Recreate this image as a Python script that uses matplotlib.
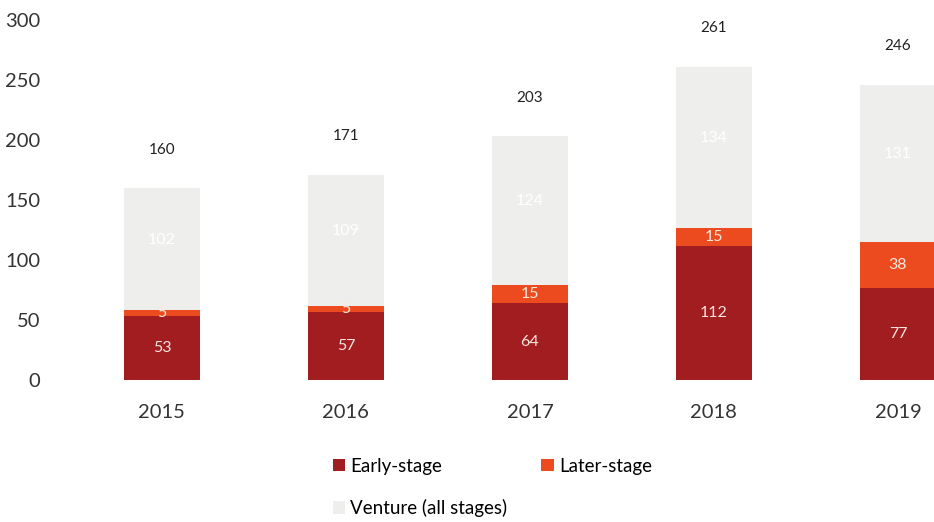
import matplotlib
matplotlib.use("Agg")
import matplotlib.pyplot as plt
import numpy as np

plt.rcParams['font.family'] = ['Lato', 'DejaVu Sans']

years = ["2015", "2016", "2017", "2018", "2019"]
early = [53, 57, 64, 112, 77]
later = [5, 5, 15, 15, 38]
venture_rest = [102, 109, 124, 134, 131]
totals = [160, 171, 203, 261, 246]

c_early = "#A11D1F"
c_later = "#EB4B1E"
c_vent = "#EEEEEC"

fig = plt.figure(figsize=(9.34, 5.22), dpi=100)
ax = fig.add_axes([60/934, (522-380)/522, (934-60)/934, 360/522])

x = np.arange(len(years))
w = 0.41
b1 = ax.bar(x, early, w, color=c_early, label="Early-stage")
b2 = ax.bar(x, later, w, bottom=early, color=c_later, label="Later-stage")
bottom3 = np.array(early) + np.array(later)
b3 = ax.bar(x, venture_rest, w, bottom=bottom3, color=c_vent, label="Venture (all stages)")

for i in range(len(years)):
    ax.text(x[i], early[i]/2, str(early[i]), ha='center', va='center', color='#F5E6E0', fontsize=11.5)
    ax.text(x[i], early[i] + later[i]/2, str(later[i]), ha='center', va='center', color='#FBE9DD', fontsize=11.5)
    ax.text(x[i], bottom3[i] + venture_rest[i]/2 + 8, str(venture_rest[i]), ha='center', va='center', color='#FFFFFF', fontsize=11.5)
    ax.text(x[i], totals[i] + 32, str(totals[i]), ha='center', va='center', color='#222222', fontsize=11, clip_on=False)

ax.set_xlim(-0.554, 4.196)
ax.set_ylim(0, 300)
ax.set_yticks([0, 50, 100, 150, 200, 250, 300])
ax.set_xticks(x)
ax.set_xticklabels(years)
for s in ax.spines.values():
    s.set_visible(False)
ax.tick_params(axis='both', length=0, labelsize=14.5, colors='#333333')
ax.tick_params(axis='y', pad=14)
ax.tick_params(axis='x', pad=17)
for lbl in ax.get_yticklabels():
    lbl.set_horizontalalignment('right')

fig.legend([b1, b3, b2], ["Early-stage", "Venture (all stages)", "Later-stage"],
           ncol=2, loc='upper left', bbox_to_anchor=(327/934, 1 - 452/522),
           frameon=False, fontsize=13.5, handlelength=0.65, handleheight=0.65,
           handletextpad=0.3, columnspacing=1.8, labelspacing=1.3,
           borderaxespad=0, borderpad=0.3)

fig.savefig("out.png", dpi=100)
